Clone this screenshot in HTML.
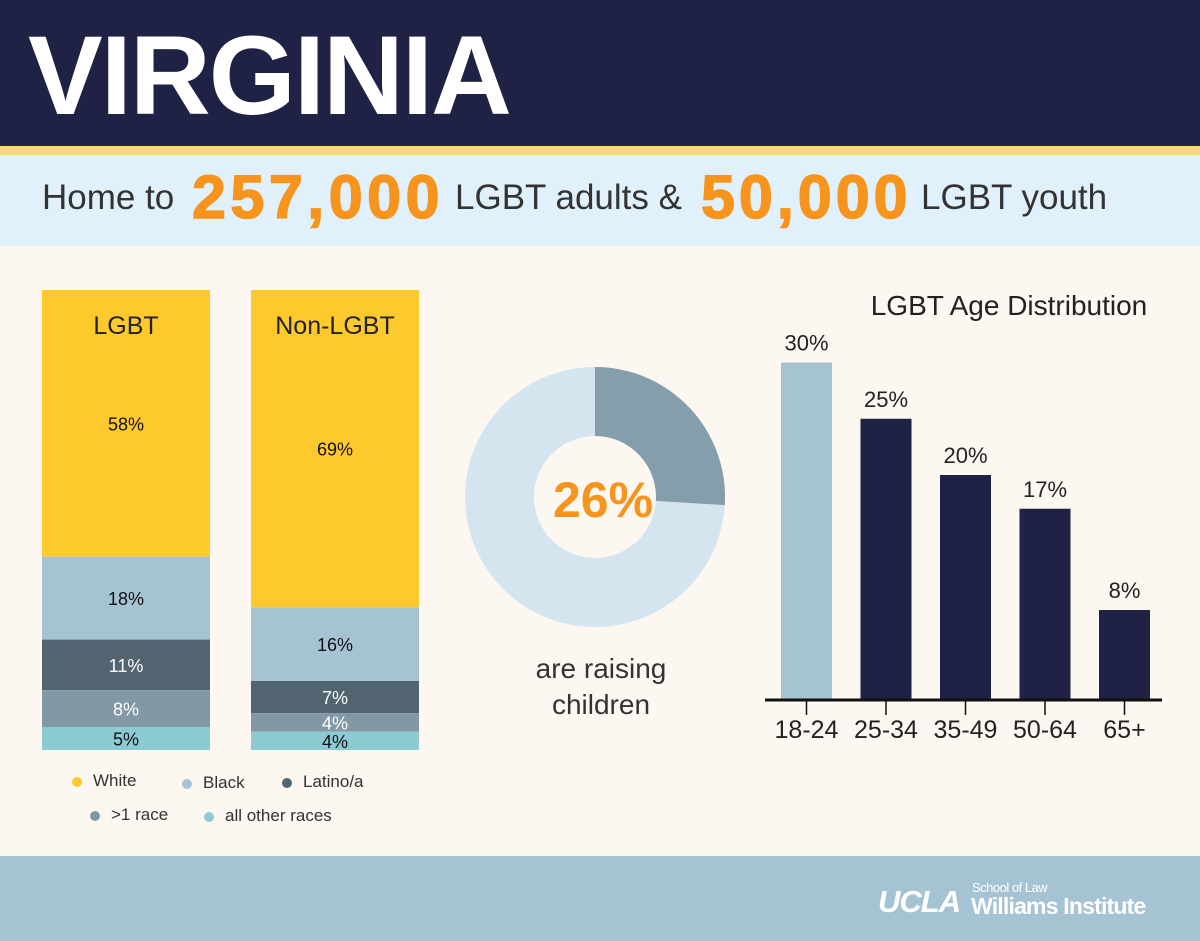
<!DOCTYPE html>
<html><head><meta charset="utf-8">
<style>
*{margin:0;padding:0;box-sizing:border-box}
body{width:1200px;height:941px;overflow:hidden;background:#fcf7f1;font-family:"Liberation Sans",sans-serif;position:relative}
.abs{position:absolute}
</style></head>
<body>
<div class="abs" style="left:0;top:0;width:1200px;height:146px;background:#1f2244"></div>
<div class="abs" style="left:28px;top:14px;font-size:112px;font-weight:bold;color:#fff;line-height:124px;letter-spacing:-2px">VIRGINIA</div>
<div class="abs" style="left:0;top:146px;width:1200px;height:9px;background:#f6da70"></div>
<div class="abs" style="left:0;top:155px;width:1200px;height:91px;background:#e1f1fc"></div>
<div class="abs" style="left:42px;top:178px;font-size:35px;color:#333;line-height:40px">Home to</div>
<div class="abs" style="left:192px;top:164px;font-size:61px;font-weight:900;color:#f7941d;line-height:66px;letter-spacing:4.5px;-webkit-text-stroke:1.5px #f7941d">257,000</div>
<div class="abs" style="left:455px;top:178px;font-size:35px;color:#333;line-height:40px">LGBT adults &amp;</div>
<div class="abs" style="left:701px;top:164px;font-size:61px;font-weight:900;color:#f7941d;line-height:66px;letter-spacing:4px;-webkit-text-stroke:1.5px #f7941d">50,000</div>
<div class="abs" style="left:921px;top:178px;font-size:35px;color:#333;line-height:40px">LGBT youth</div>

<svg class="abs" style="left:0;top:0" width="1200" height="941" id="chart"></svg>

<div class="abs" style="left:0;top:856px;width:1200px;height:85px;background:#a6c3d4"></div>
<div class="abs" style="left:878px;top:884px;font-size:31px;font-weight:bold;font-style:italic;color:#fff;letter-spacing:-1px">UCLA</div>
<div class="abs" style="left:972px;top:880px;font-size:13px;color:#fff;letter-spacing:-0.5px">School of Law</div>
<div class="abs" style="left:971px;top:893px;font-size:23px;font-weight:bold;color:#fff;letter-spacing:-0.8px">Williams Institute</div>

<script>
const raceCats=['White','Black','Latino/a','>1 race','all other races'];
const lgbtVals=[58,18,11,8,5];
const nonLgbtVals=[69,16,7,4,4];
const raceColors=['#fec92c','#a6c3d4','#51646f','#8299a5','#8ccbd4'];
const raceLabelColors=['#111','#111','#fff','#fff','#111'];
const donutValue=[26];
const ageCats=['18-24','25-34','35-49','50-64','65+'];
const ageVals=[30,25,20,17,8];

const svg=document.getElementById('chart');
const NS='http://www.w3.org/2000/svg';
function mk(tag,attrs,parent){const e=document.createElementNS(NS,tag);for(const k in attrs)e.setAttribute(k,attrs[k]);(parent||svg).appendChild(e);return e;}

const stackTop=290,stackBot=750;
function yStack(v){return stackTop+(stackBot-stackTop)*v/100;}
function stack(vals,x,w,label,name){
  let cum=0;
  vals.forEach((v,i)=>{
    const y0=yStack(cum),y1=yStack(cum+v);
    const r=mk('rect',{x:x,y:y0,width:w,height:y1-y0,fill:raceColors[i]});
    
    
    const t=mk('text',{x:x+w/2,y:(y0+y1)/2+7,'text-anchor':'middle','font-size':18,fill:raceLabelColors[i]});
    t.textContent=v+'%';
    
    
    cum+=v;
  });
  const t=mk('text',{x:x+w/2,y:334,'text-anchor':'middle','font-size':25,fill:'#222'});
  t.textContent=label;
  
  
}
stack(lgbtVals,42,168,'LGBT','lgbt-bar');
stack(nonLgbtVals,251,168,'Non-LGBT','non-lgbt-bar');

const legPos=[[77,780],[187,782],[287,781],[95,814],[209,815]];
raceCats.forEach((c,i)=>{
  const [lx,ly]=legPos[i];
  const d=mk('circle',{cx:lx,cy:ly+2,r:5,fill:raceColors[i]});
  
  
  const t=mk('text',{x:lx+16,y:ly+6,'font-size':17,fill:'#333'});
  t.textContent=c;
  
  
});

const cx=595,cy=497,R=130,r=61;
const full=mk('circle',{cx:cx,cy:cy,r:(R+r)/2,fill:'none',stroke:'#d4e5ef','stroke-width':R-r});


const a=donutValue[0]/100*2*Math.PI;
const x1=cx+R*Math.sin(a),y1=cy-R*Math.cos(a),x2=cx+r*Math.sin(a),y2=cy-r*Math.cos(a);
const large=a>Math.PI?1:0;
const seg=mk('path',{d:`M${cx},${cy-R} A${R},${R} 0 ${large} 1 ${x1},${y1} L${x2},${y2} A${r},${r} 0 ${large} 0 ${cx},${cy-r} Z`,fill:'#849fab'});


const dt=mk('text',{x:cx+8,y:cy+20,'text-anchor':'middle','font-size':50,'font-weight':'bold',fill:'#f7941d'});
dt.textContent=donutValue[0]+'%';


['are raising','children'].forEach((s,i)=>{
  const t=mk('text',{x:601,y:678+i*36,'text-anchor':'middle','font-size':28,fill:'#333'});
  t.textContent=s;
  
  
});

const base=700,pxPerPct=11.25,bw=51;
function yAge(v){return base-v*pxPerPct;}
function xAge(i){return 781+i*79.5;}
const title=mk('text',{x:1009,y:315,'text-anchor':'middle','font-size':28,fill:'#222'});
title.textContent='LGBT Age Distribution';


ageVals.forEach((v,i)=>{
  const b=mk('rect',{x:xAge(i),y:yAge(v),width:bw,height:base-yAge(v),fill:i===0?'#a6c3d4':'#1f2244'});
  
  
  const t=mk('text',{x:xAge(i)+bw/2,y:yAge(v)-12,'text-anchor':'middle','font-size':22,fill:'#222'});
  t.textContent=v+'%';
  
  
  const tk=mk('line',{x1:xAge(i)+bw/2,x2:xAge(i)+bw/2,y1:base,y2:base+15,stroke:'#111','stroke-width':1.5});
  
  
  const tl=mk('text',{x:xAge(i)+bw/2,y:738,'text-anchor':'middle','font-size':25,fill:'#222'});
  tl.textContent=ageCats[i];
  
  
});
const ax=mk('line',{x1:765,x2:1162,y1:base,y2:base,stroke:'#111','stroke-width':3});


</script>
</body></html>
